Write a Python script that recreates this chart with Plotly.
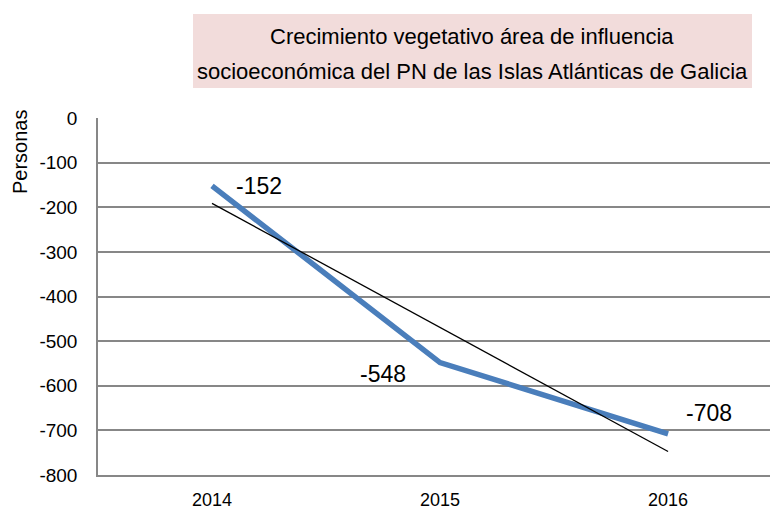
import numpy as np
import plotly.graph_objects as go

years = ["2014", "2015", "2016"]
values = [-152, -548, -708]
y_ticks = [0, -100, -200, -300, -400, -500, -600, -700, -800]
title_lines = ["Crecimiento vegetativo área de influencia",
               "socioeconómica del PN de las Islas Atlánticas de Galicia"]

x = np.arange(len(years))
slope, intercept = np.polyfit(x, values, 1)
trend = slope * x + intercept

FONT = "Liberation Sans"
L, T, PW, PH = 98, 118, 672, 357


def px(xp):
    return (xp - L) / PW


def py(yp):
    return 1 - (yp - T) / PH


fig = go.Figure()
fig.add_trace(go.Scatter(x=x, y=values, mode="lines",
                         line=dict(color="#4a7ebb", width=5.5), hoverinfo="skip"))
fig.add_trace(go.Scatter(x=[x[0], x[-1]], y=[trend[0], trend[-1]], mode="lines",
                         line=dict(color="#000000", width=1.3), hoverinfo="skip"))

label_shift = [(47, 0), (-57, -11), (41, 21)]
for xi, v, (dx, dy) in zip(x, values, label_shift):
    fig.add_annotation(x=xi, y=v, text=str(v), showarrow=False,
                       xshift=dx, yshift=dy,
                       font=dict(family=FONT, size=23, color="#000000"))

fig.add_shape(type="rect", xref="paper", yref="paper",
              x0=px(193), x1=px(752), y0=py(88), y1=py(14),
              fillcolor="#f2dcdb", line=dict(width=0), layer="below")
for line_text, yc in zip(title_lines, [37, 71]):
    fig.add_annotation(xref="paper", yref="paper", x=px(472), y=py(yc),
                       text=line_text, showarrow=False,
                       font=dict(family=FONT, size=22, color="#000000"),
                       xanchor="center", yanchor="middle")

fig.add_annotation(xref="paper", yref="paper", x=px(20), y=py(152),
                   text="Personas", textangle=-90, showarrow=False,
                   font=dict(family=FONT, size=20, color="#000000"),
                   xanchor="center", yanchor="middle")

fig.update_layout(
    width=770, height=511,
    margin=dict(l=L, r=0, t=T, b=511 - T - PH),
    paper_bgcolor="white", plot_bgcolor="white",
    showlegend=False,
    xaxis=dict(range=[-0.5, 2.447], tickvals=list(x), ticktext=years, showgrid=False,
               zeroline=False, showline=True, linecolor="#878787", linewidth=1.5,
               ticks="", tickfont=dict(family=FONT, size=18, color="#000000"),
               ticklabelstandoff=8),
    yaxis=dict(range=[-800, 0], tickvals=y_ticks, ticktext=[str(t) for t in y_ticks],
               showgrid=True, gridcolor="#878787", gridwidth=1.5, zeroline=False,
               showline=True, linecolor="#878787", linewidth=1.5, ticks="",
               tickfont=dict(family=FONT, size=19, color="#000000"), ticklabelstandoff=15),
)

fig.write_html("out.html", config={"displayModeBar": False},
               post_script="document.body.style.margin='0';document.body.style.overflow='hidden';")
